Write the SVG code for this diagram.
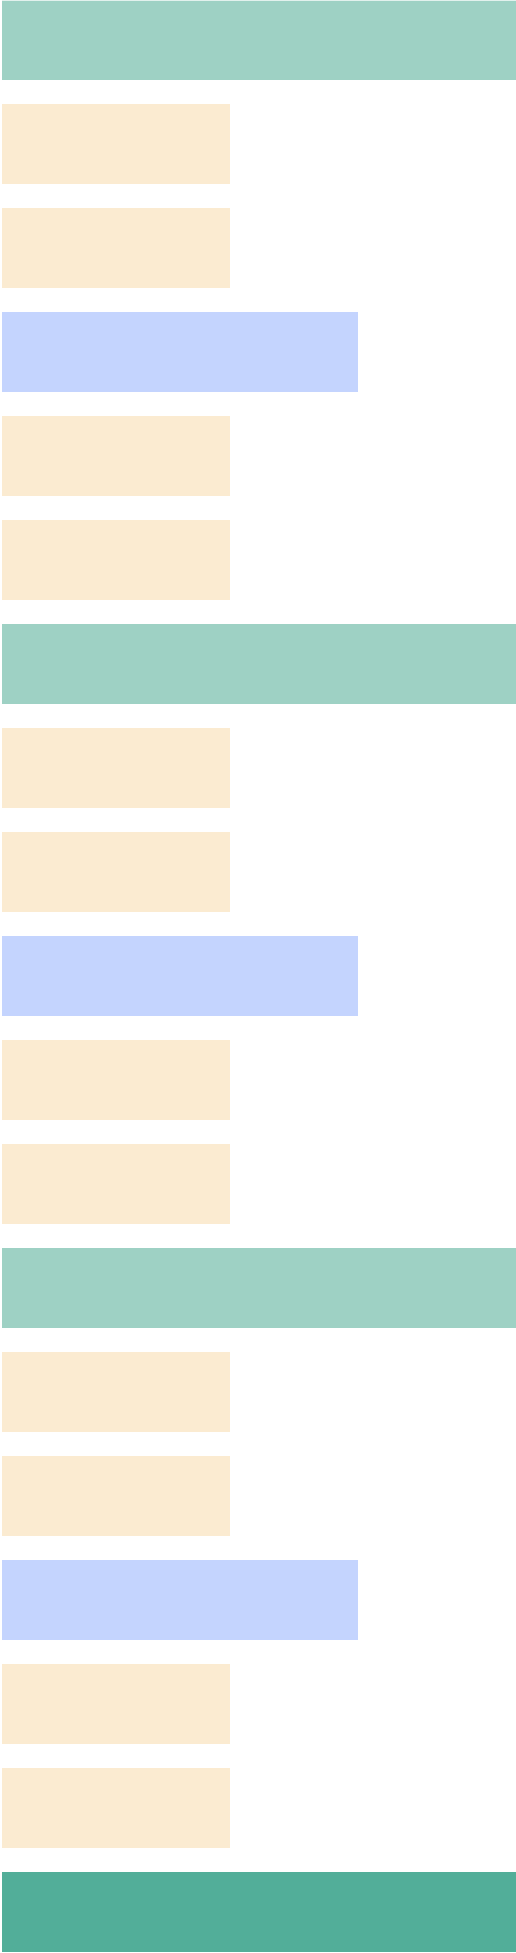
<svg xmlns="http://www.w3.org/2000/svg" width="516" height="1953" viewBox="0 0 516 1953">
<style>
.g{fill:#9ED1C4}.o{fill:#FBEBD1}.b{fill:#C4D4FE}.d{fill:#52AE99}
</style>
<rect width="516" height="1953" fill="#ffffff"/>
<g id="n0"><rect class="g" x="2" y="0.7" width="514" height="79.3"/></g>
<g id="n1"><rect class="o" x="2" y="104" width="228" height="80"/></g>
<g id="n2"><rect class="o" x="2" y="208" width="228" height="80"/></g>
<g id="n3"><rect class="b" x="2" y="312" width="356" height="80"/></g>
<g id="n4"><rect class="o" x="2" y="416" width="228" height="80"/></g>
<g id="n5"><rect class="o" x="2" y="520" width="228" height="80"/></g>
<g id="n6"><rect class="g" x="2" y="624" width="514" height="80"/></g>
<g id="n7"><rect class="o" x="2" y="728" width="228" height="80"/></g>
<g id="n8"><rect class="o" x="2" y="832" width="228" height="80"/></g>
<g id="n9"><rect class="b" x="2" y="936" width="356" height="80"/></g>
<g id="n10"><rect class="o" x="2" y="1040" width="228" height="80"/></g>
<g id="n11"><rect class="o" x="2" y="1144" width="228" height="80"/></g>
<g id="n12"><rect class="g" x="2" y="1248" width="514" height="80"/></g>
<g id="n13"><rect class="o" x="2" y="1352" width="228" height="80"/></g>
<g id="n14"><rect class="o" x="2" y="1456" width="228" height="80"/></g>
<g id="n15"><rect class="b" x="2" y="1560" width="356" height="80"/></g>
<g id="n16"><rect class="o" x="2" y="1664" width="228" height="80"/></g>
<g id="n17"><rect class="o" x="2" y="1768" width="228" height="80"/></g>
<g id="n18"><rect class="d" x="2" y="1872" width="514" height="80"/></g>
<g id="connectors"></g>
</svg>
